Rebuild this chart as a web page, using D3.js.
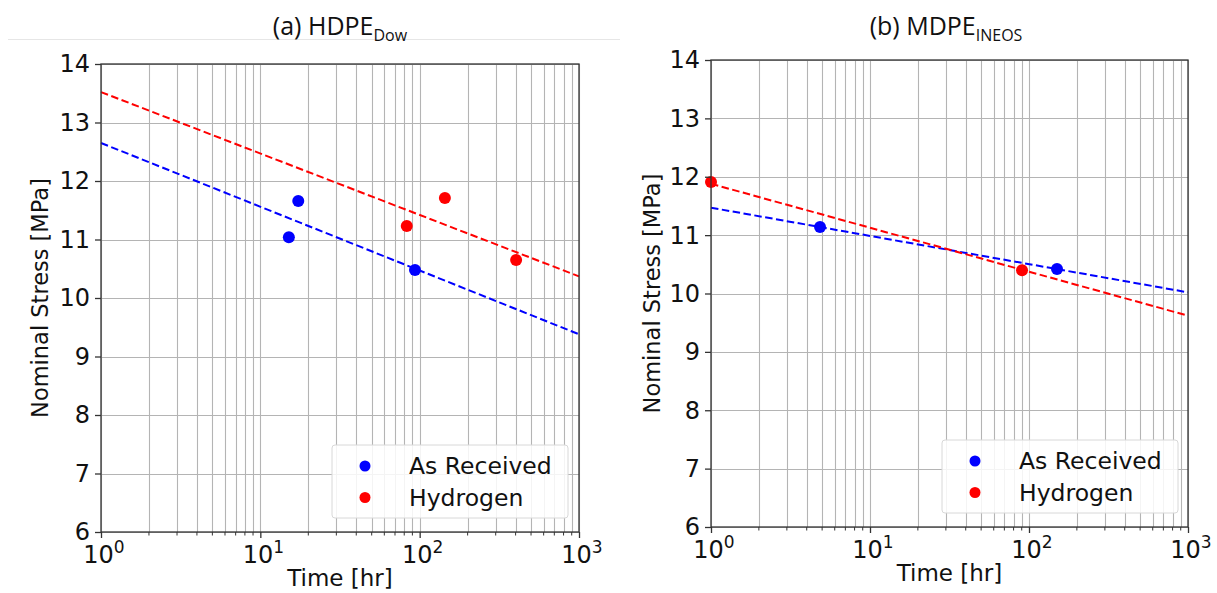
<!DOCTYPE html>
<html><head><meta charset="utf-8">
<script src="https://cdn.jsdelivr.net/npm/d3@7"></script>
<style>body{margin:0;background:#fff}svg{display:block}</style>
</head><body>
<svg id="c" width="1217" height="593"></svg>
<script>
// ---- data ----
const seriesNames = ["As Received", "Hydrogen"];
const seriesColors = ["#0000ff", "#ff0000"];
const yTicks = [6, 7, 8, 9, 10, 11, 12, 13, 14];
const xTickExps = [0, 1, 2, 3];

// Panel (a) HDPE Dow
const aAsTime = [15.1, 17.3, 93.5];
const aAsStress = [11.04, 11.66, 10.48];
const aH2Time = [83, 144, 403];
const aH2Stress = [11.23, 11.71, 10.65];
const aAsFit = [[1, 12.65], [1000, 9.38]];
const aH2Fit = [[1, 13.52], [1000, 10.37]];

// Panel (b) MDPE INEOS
const bAsTime = [4.85, 150];
const bAsStress = [11.14, 10.42];
const bH2Time = [1.0, 90.4];
const bH2Stress = [11.91, 10.40];
const bAsFit = [[1, 11.47], [1000, 10.02]];
const bH2Fit = [[1, 11.88], [1000, 9.62]];

const panels = [
  {title: "(a) HDPE", sub: "Dow", x0: 101, x1: 579, y0: 64, y1: 532, titleX: 340, ylabX: 40, xlabY: 586,
   legend: {x: 332, y: 445, w: 236, h: 73},
   series: [
     {t: aAsTime, s: aAsStress, fit: aAsFit},
     {t: aH2Time, s: aH2Stress, fit: aH2Fit}]},
  {title: "(b) MDPE", sub: "INEOS", x0: 711, x1: 1188, y0: 60, y1: 527, titleX: 946, ylabX: 652, xlabY: 581,
   legend: {x: 942, y: 440, w: 236, h: 73},
   series: [
     {t: bAsTime, s: bAsStress, fit: bAsFit},
     {t: bH2Time, s: bH2Stress, fit: bH2Fit}]}
];

const svg = d3.select("#c");
const mono = "DejaVu Sans, sans-serif";
const titleFont = "Open Sans, Noto Sans, sans-serif";

// separator line under left title
svg.append("line").attr("x1", 8).attr("x2", 620).attr("y1", 39.5).attr("y2", 39.5)
  .attr("stroke", "#e6e6e6").attr("stroke-width", 1);

panels.forEach(p => {
  const x = d3.scaleLog().domain([1, 1000]).range([p.x0, p.x1]);
  const y = d3.scaleLinear().domain([6, 14]).range([p.y1, p.y0]);
  const g = svg.append("g");

  // title
  const tt = g.append("text").attr("x", p.titleX).attr("y", 35).attr("text-anchor", "middle")
    .attr("font-family", titleFont).attr("font-size", 25).attr("fill", "#111");
  tt.append("tspan").text(p.title);
  tt.append("tspan").attr("font-size", 16).attr("dy", 6).text(p.sub);

  // grid
  const minor = [];
  for (let e = 0; e < 3; e++) for (let k = 2; k <= 9; k++) minor.push(k * Math.pow(10, e));
  const major = xTickExps.map(e => Math.pow(10, e));
  g.append("g").selectAll("line").data(minor.concat(major)).join("line")
    .attr("x1", d => Math.round(x(d)) + 0.5).attr("x2", d => Math.round(x(d)) + 0.5)
    .attr("y1", p.y0).attr("y2", p.y1).attr("stroke", "#b4b4b4").attr("stroke-width", 1.1);
  g.append("g").selectAll("line").data(yTicks).join("line")
    .attr("x1", p.x0).attr("x2", p.x1)
    .attr("y1", d => Math.round(y(d)) + 0.5).attr("y2", d => Math.round(y(d)) + 0.5)
    .attr("stroke", "#b4b4b4").attr("stroke-width", 1.1);

  // fit lines
  const line = d3.line().x(d => x(d[0])).y(d => y(d[1]));
  p.series.forEach((s, i) => {
    g.append("path").attr("d", line(s.fit)).attr("fill", "none")
      .attr("stroke", seriesColors[i]).attr("stroke-width", 2).attr("stroke-dasharray", "7.5,3.5");
  });
  // points
  p.series.forEach((s, i) => {
    g.append("g").selectAll("circle").data(s.t.map((t, j) => [t, s.s[j]])).join("circle")
      .attr("cx", d => x(d[0])).attr("cy", d => y(d[1])).attr("r", 6)
      .attr("fill", seriesColors[i]);
  });

  // frame
  g.append("rect").attr("x", p.x0).attr("y", p.y0).attr("width", p.x1 - p.x0).attr("height", p.y1 - p.y0)
    .attr("fill", "none").attr("stroke", "#333").attr("stroke-width", 1.3);

  // y axis
  const ya = g.append("g").attr("transform", `translate(${p.x0},0)`)
    .call(d3.axisLeft(y).tickValues(yTicks).tickSize(6).tickPadding(5).tickFormat(d3.format("d")));
  ya.select(".domain").remove();
  ya.selectAll("line").attr("stroke", "#333").attr("stroke-width", 1.3);
  ya.selectAll("text").attr("font-family", mono).attr("font-size", 24).attr("fill", "#111").attr("dy", "0.33em");

  // x axis
  const xa = g.append("g").attr("transform", `translate(0,${p.y1})`)
    .call(d3.axisBottom(x).tickValues(major).tickSize(6).tickPadding(2).tickFormat(""));
  xa.select(".domain").remove();
  xa.selectAll("line").attr("stroke", "#333").attr("stroke-width", 1.3);
  g.append("g").selectAll("line").data(minor).join("line")
    .attr("x1", d => x(d)).attr("x2", d => x(d)).attr("y1", p.y1).attr("y2", p.y1 + 3.5)
    .attr("stroke", "#333").attr("stroke-width", 1);
  xTickExps.forEach(e => {
    const t = g.append("text").attr("x", x(Math.pow(10, e)) + 3).attr("y", p.y1 + 31)
      .attr("text-anchor", "middle").attr("font-family", mono).attr("font-size", 24).attr("fill", "#111");
    t.append("tspan").text("10");
    t.append("tspan").attr("font-size", 17).attr("dy", -10).text(e);
  });

  // axis labels
  g.append("text").attr("x", (p.x0 + p.x1) / 2).attr("y", p.xlabY).attr("text-anchor", "middle")
    .attr("font-family", mono).attr("font-size", 23).attr("fill", "#111").text("Time [hr]");
  g.append("text").attr("transform", `translate(${p.ylabX},${(p.y0 + p.y1) / 2}) rotate(-90)`)
    .attr("text-anchor", "middle").attr("dy", "0.35em")
    .attr("font-family", mono).attr("font-size", 22.5).attr("fill", "#111").text("Nominal Stress [MPa]");

  // legend
  const L = p.legend;
  g.append("rect").attr("x", L.x).attr("y", L.y).attr("width", L.w).attr("height", L.h).attr("rx", 3)
    .attr("fill", "rgba(255,255,255,0.85)").attr("stroke", "#d8d8d8").attr("stroke-width", 1);
  seriesNames.forEach((n, i) => {
    const cy = L.y + 21 + i * 31.5;
    g.append("circle").attr("cx", L.x + 33).attr("cy", cy).attr("r", 5.5).attr("fill", seriesColors[i]);
    g.append("text").attr("x", L.x + 77).attr("y", cy).attr("dy", "0.36em")
      .attr("font-family", mono).attr("font-size", 23.5).attr("fill", "#111").text(n);
  });
});
</script>
</body></html>
